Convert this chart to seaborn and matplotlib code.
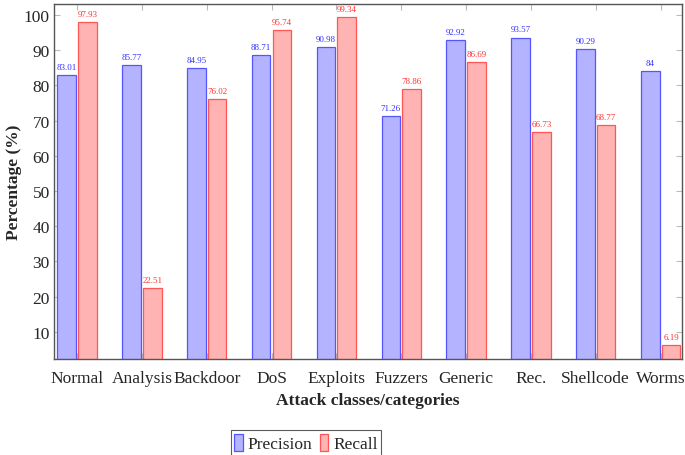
import matplotlib
matplotlib.use("Agg")
import matplotlib.pyplot as plt
import seaborn as sns
import pandas as pd
from matplotlib.patches import Patch

categories = ["Normal", "Analysis", "Backdoor", "DoS", "Exploits", "Fuzzers",
              "Generic", "Rec.", "Shellcode", "Worms"]
precision = [83.01, 85.77, 84.95, 88.71, 90.98, 71.26, 92.92, 93.57, 90.29, 84]
recall = [97.93, 22.51, 76.02, 95.74, 99.34, 78.86, 86.69, 66.73, 68.77, 6.19]
series = ["Precision", "Recall"]
yticks = [10, 20, 30, 40, 50, 60, 70, 80, 90, 100]

sns.set_style("white")
plt.rcParams["font.family"] = ["Liberation Serif", "DejaVu Serif"]

df = pd.DataFrame({
    "cat": categories * 2,
    "val": precision + recall,
    "series": [series[0]] * len(categories) + [series[1]] * len(categories),
})

fills = {"Precision": "#b3b3ff", "Recall": "#ffb3b3"}
edges = {"Precision": "#5555ff", "Recall": "#ff5555"}
txtc = {"Precision": "#3333ff", "Recall": "#ff3333"}

fig = plt.figure(figsize=(6.85, 4.56), dpi=100)
ax = fig.add_axes([0.0788, 0.2105, 0.9956 - 0.0788, 0.989 - 0.2105])

sns.barplot(data=df, x="cat", y="val", hue="series", order=categories,
            hue_order=series, palette=fills, width=0.64, gap=0.1,
            ax=ax, legend=False, saturation=1)

for cont, s in zip(ax.containers, series):
    for bar in cont:
        bar.set_edgecolor(edges[s])
        bar.set_linewidth(0.9)
    vals = precision if s == "Precision" else recall
    ax.bar_label(cont, labels=[f"{v:g}" for v in vals], padding=3,
                 fontsize=6.5, color=txtc[s])

ax.set_ylim(2.3, 103.1)
ax.set_xlim(-0.355, 9.33)
ax.set_yticks(yticks)
ax.set_yticklabels([str(t) for t in yticks], fontsize=12.5)
ax.tick_params(axis="x", labelsize=12.5, pad=8)
ax.tick_params(axis="y", pad=3)
ax.tick_params(axis="both", direction="in", length=4, color="#bbbbbb",
               top=True, bottom=True, left=True, right=True)
ax.set_xlabel("Attack classes/categories", fontsize=12.5, fontweight="bold",
              labelpad=4)
ax.set_ylabel("Percentage (%)", fontsize=12.5, fontweight="bold", labelpad=1)

for sp in ax.spines.values():
    sp.set_visible(True)
    sp.set_color("#555555")
    sp.set_linewidth(1.0)

handles = [Patch(facecolor=fills[s], edgecolor=edges[s], linewidth=0.9) for s in series]
leg = fig.legend(handles, series, loc="center", bbox_to_anchor=(306 / 685, 1 - 444 / 456),
                 ncol=2, frameon=True, fancybox=False, fontsize=12.5,
                 handlelength=0.5, handleheight=1.1, handletextpad=0.3,
                 columnspacing=0.4, borderpad=0.2, borderaxespad=0)
leg.get_frame().set_edgecolor("#333333")
leg.get_frame().set_linewidth(0.8)

fig.savefig("out.png", dpi=100)
